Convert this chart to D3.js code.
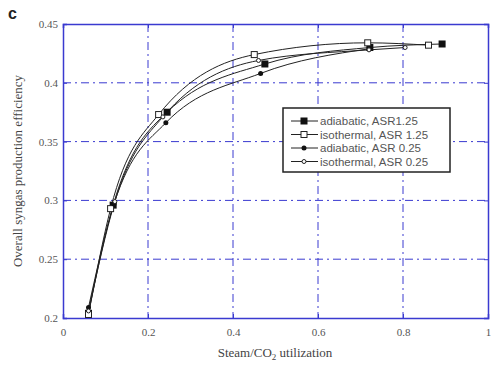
<!DOCTYPE html>
<html>
<head>
<meta charset="utf-8">
<script src="https://cdn.jsdelivr.net/npm/d3@7"></script>
<style>
  body { margin: 0; background: #fff; }
  .tick text { font-family: "Liberation Serif", serif; font-size: 11px; fill: #555; }
</style>
</head>
<body>
<div id="chart"></div>
<script>
// Data
var xTicks = [0, 0.2, 0.4, 0.6, 0.8, 1];
var yTicks = [0.2, 0.25, 0.3, 0.35, 0.4, 0.45];
var seriesNames = ["adiabatic, ASR1.25", "isothermal, ASR 1.25", "adiabatic, ASR 0.25", "isothermal, ASR 0.25"];

var adiabatic125 = [[0.06, 0.204], [0.118, 0.296], [0.245, 0.375], [0.475, 0.416], [0.722, 0.430], [0.892, 0.433]];
var isothermal125 = [[0.06, 0.203], [0.112, 0.293], [0.225, 0.373], [0.45, 0.424], [0.717, 0.434], [0.86, 0.432]];
var adiabatic025 = [[0.06, 0.209], [0.12, 0.297], [0.242, 0.366], [0.465, 0.408], [0.722, 0.429]];
var isothermal025 = [[0.06, 0.206], [0.122, 0.299], [0.235, 0.371], [0.46, 0.419], [0.72, 0.428], [0.805, 0.430]];

var svgWidth = 491;
var svgHeight = 368;
var margin = { top: 24, right: 3, bottom: 50, left: 63 };

var svg = d3.select("#chart").append("svg")
  .attr("width", svgWidth)
  .attr("height", svgHeight);

var chartGroup = svg.append("g")
  .attr("transform", `translate(${margin.left}, ${margin.top})`);

var x = d3.scaleLinear().domain([0, 1]).range([0, 425]);
var y = d3.scaleLinear().domain([0.2, 0.45]).range([294, 0]);

var blue = "#3a3ad0";

// grid lines (dash-dot)
chartGroup.selectAll(".vgrid")
  .data(xTicks.slice(1, -1))
  .enter().append("line")
  .attr("x1", d => x(d)).attr("x2", d => x(d))
  .attr("y1", 0).attr("y2", y(0.2))
  .attr("stroke", blue).attr("stroke-width", 1)
  .attr("stroke-dasharray", "8,4,2,4");

chartGroup.selectAll(".hgrid")
  .data(yTicks.slice(1, -1))
  .enter().append("line")
  .attr("x1", 0).attr("x2", x(1))
  .attr("y1", d => y(d)).attr("y2", d => y(d))
  .attr("stroke", blue).attr("stroke-width", 1)
  .attr("stroke-dasharray", "8,4,2,4");

// axes
var bottomAxis = d3.axisBottom(x).tickValues(xTicks).tickFormat(d3.format("")).tickSize(-4).tickPadding(10);
var leftAxis = d3.axisLeft(y).tickValues(yTicks).tickFormat(d3.format("")).tickSize(-4).tickPadding(5);

var gx = chartGroup.append("g")
  .attr("transform", `translate(0, ${y(0.2)})`)
  .call(bottomAxis);
var gy = chartGroup.append("g").call(leftAxis);
var gt = chartGroup.append("g").call(d3.axisTop(x).tickValues(xTicks).tickSize(-4).tickFormat(""));
var gr = chartGroup.append("g").attr("transform", `translate(${x(1)}, 0)`)
  .call(d3.axisRight(y).tickValues(yTicks).tickSize(-4).tickFormat(""));
[gx, gy, gt, gr].forEach(function(g) {
  g.selectAll(".domain").attr("stroke", blue).attr("stroke-width", 1.5);
  g.selectAll(".tick line").attr("stroke", blue);
});

// curves
var line = d3.line()
  .x(d => x(d[0]))
  .y(d => y(d[1]))
  .curve(d3.curveMonotoneX);

var allSeries = [adiabatic125, isothermal125, adiabatic025, isothermal025];
var markers = ["fsq", "osq", "fdot", "odot"];

chartGroup.selectAll(".curve")
  .data(allSeries)
  .enter().append("path")
  .attr("d", d => line(d))
  .attr("fill", "none")
  .attr("stroke", "#222")
  .attr("stroke-width", 1);

function drawMarker(g, type, cx, cy) {
  if (type === "fsq") {
    g.append("rect").attr("x", cx - 3.5).attr("y", cy - 3.5).attr("width", 7).attr("height", 7).attr("fill", "#111");
  } else if (type === "osq") {
    g.append("rect").attr("x", cx - 3).attr("y", cy - 3).attr("width", 6).attr("height", 6)
      .attr("fill", "#fff").attr("stroke", "#222").attr("stroke-width", 1);
  } else if (type === "fdot") {
    g.append("circle").attr("cx", cx).attr("cy", cy).attr("r", 2.5).attr("fill", "#111");
  } else {
    g.append("circle").attr("cx", cx).attr("cy", cy).attr("r", 2).attr("fill", "#fff")
      .attr("stroke", "#222").attr("stroke-width", 1);
  }
}

allSeries.forEach(function(s, i) {
  s.forEach(function(p) {
    drawMarker(chartGroup, markers[i], x(p[0]), y(p[1]));
  });
});

// legend
var legend = svg.append("g").attr("transform", "translate(283, 108)");
legend.append("rect")
  .attr("width", 167).attr("height", 64)
  .attr("fill", "#fff").attr("stroke", "#222").attr("stroke-width", 1.5);
seriesNames.forEach(function(name, i) {
  var ly = 13 + i * 13.5;
  legend.append("line").attr("x1", 8).attr("x2", 35).attr("y1", ly).attr("y2", ly)
    .attr("stroke", "#222").attr("stroke-width", 1);
  drawMarker(legend, markers[i], 21, ly);
  legend.append("text")
    .attr("x", 37).attr("y", ly + 4)
    .style("font-family", "Liberation Sans, Arial, sans-serif")
    .style("font-size", "11.5px")
    .attr("fill", "#555")
    .text(name);
});

// axis labels
svg.append("text")
  .attr("x", 275).attr("y", 357)
  .attr("text-anchor", "middle")
  .style("font-family", "Liberation Serif, serif")
  .style("font-size", "13px")
  .attr("fill", "#444")
  .html('Steam/CO<tspan dy="3" font-size="9px">2</tspan><tspan dy="-3"> utilization</tspan>');

svg.append("text")
  .attr("transform", "translate(22, 171) rotate(-90)")
  .attr("text-anchor", "middle")
  .style("font-family", "Liberation Serif, serif")
  .style("font-size", "13px")
  .attr("fill", "#444")
  .text("Overall syngas production efficiency");

// panel letter
svg.append("text")
  .attr("x", 8).attr("y", 19)
  .style("font-family", "Liberation Sans, Arial, sans-serif")
  .style("font-size", "16px")
  .style("font-weight", "bold")
  .attr("fill", "#222")
  .text("c");
</script>
</body>
</html>
